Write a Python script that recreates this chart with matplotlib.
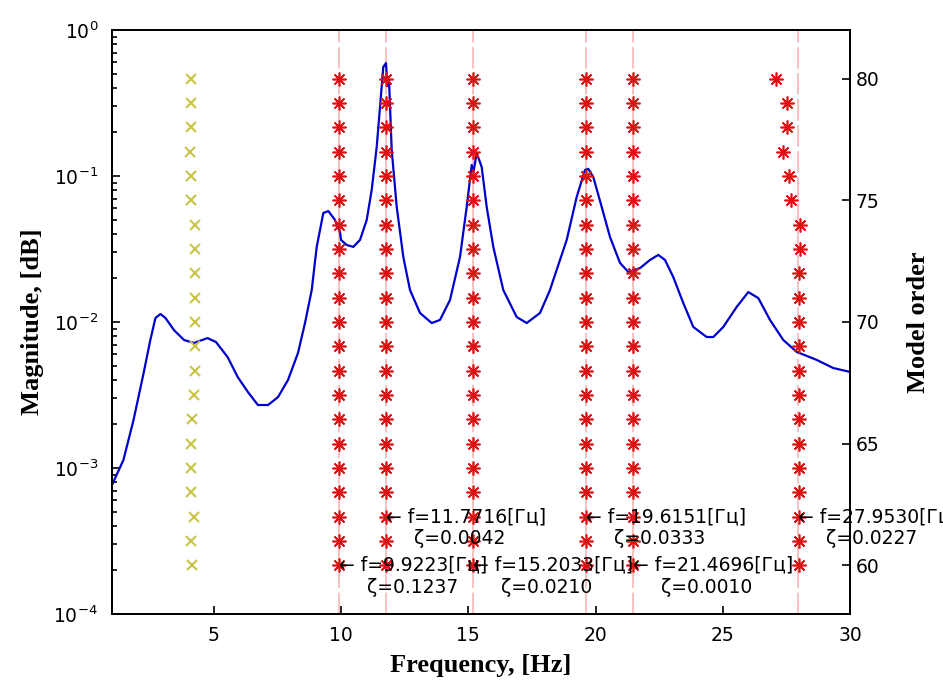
import numpy as np
import matplotlib
matplotlib.use('Agg')
import matplotlib.pyplot as plt

# --- FRF magnitude curve ---
freq = [1.00, 1.448, 1.845, 2.242, 2.505, 2.705, 2.902, 3.102, 3.432, 3.829,
        4.222, 4.752, 5.086, 5.542, 5.939, 6.336, 6.733, 7.130, 7.523, 7.916,
        8.308, 8.583, 8.847, 9.043, 9.303, 9.499, 9.762, 9.959, 9.998, 10.222,
        10.481, 10.745, 11.008, 11.204, 11.401, 11.530, 11.660, 11.766, 11.817, 11.884,
        11.990, 12.187, 12.446, 12.709, 13.102, 13.562, 13.888, 14.281, 14.674, 14.937,
        15.134, 15.204, 15.330, 15.527, 15.723, 15.982, 16.375, 16.902, 17.295, 17.817,
        18.210, 18.340, 18.867, 19.259, 19.585, 19.715, 19.912, 20.242, 20.568, 20.961,
        21.287, 21.747, 22.139, 22.466, 22.729, 23.055, 23.448, 23.841, 24.367, 24.627,
        25.020, 25.546, 26.002, 26.395, 26.855, 27.377, 27.904, 28.690, 29.341, 30.0]
mag = [7.66e-4, 1.135e-3, 2.133e-3, 4.477e-3, 7.53e-3, 1.064e-2, 1.135e-2, 1.064e-2, 8.81e-3, 7.53e-3,
       7.18e-3, 7.76e-3, 7.29e-3, 5.75e-3, 4.20e-3, 3.32e-3, 2.70e-3, 2.70e-3, 3.06e-3, 4.01e-3,
       6.14e-3, 9.84e-3, 1.656e-2, 3.27e-2, 5.58e-2, 5.75e-2, 5.00e-2, 4.13e-2, 3.65e-2, 3.37e-2,
       3.27e-2, 3.65e-2, 5.00e-2, 8.02e-2, 0.158, 0.297, 0.558, 0.594, 0.413, 0.455,
       0.151, 6.14e-2, 2.79e-2, 1.656e-2, 1.153e-2, 9.84e-3, 1.033e-2, 1.416e-2, 2.79e-2, 6.14e-2,
       0.119, 0.106, 0.144, 0.115, 6.14e-2, 3.27e-2, 1.656e-2, 1.081e-2, 9.84e-3, 1.153e-2,
       1.656e-2, 1.941e-2, 3.65e-2, 7.18e-2, 0.110, 0.112, 9.84e-2, 6.14e-2, 3.82e-2, 2.54e-2,
       2.20e-2, 2.34e-2, 2.66e-2, 2.88e-2, 2.66e-2, 2.03e-2, 1.349e-2, 9.25e-3, 7.89e-3, 7.89e-3,
       9.25e-3, 1.268e-2, 1.603e-2, 1.459e-2, 1.033e-2, 7.53e-3, 6.24e-3, 5.50e-3, 4.84e-3, 4.55e-3]

# --- stabilization diagram, model orders 60..80 ---
orders = list(range(60, 81))
unstable_f = [4.16, 4.12, 4.23, 4.12, 4.12, 4.10, 4.16, 4.23, 4.25, 4.25, 4.25,
              4.25, 4.25, 4.25, 4.25, 4.10, 4.10, 4.07, 4.10, 4.10, 4.10]
stable_cols = [
    [9.92] * 21,
    [11.77] * 21,
    [15.20] * 21,
    [19.62] * 21,
    [21.47] * 21,
    [27.98, 27.98, 27.98, 27.98, 27.98, 27.98, 27.98, 27.98, 27.98, 27.98, 27.98,
     27.98, 27.98, 28.05, 28.05, 27.70, 27.61, 27.37, 27.52, 27.54, 27.11],
]

# --- identified modes ---
mode_f = [9.9223, 11.7716, 15.2033, 19.6151, 21.4696, 27.9530]
mode_zeta = ['0.1237', '0.0042', '0.0210', '0.0333', '0.0010', '0.0227']
mode_order = [60, 62, 60, 62, 60, 62]

fig = plt.figure(figsize=(9.43, 6.87), dpi=100)
ax = fig.add_axes([0.1188, 0.1063, 0.7826, 0.8500])
ax2 = ax.twinx()

for f in mode_f:
    ax.axvline(f, color='#f5b0b0', lw=1.1, dashes=(14, 3), zorder=1)

ax.semilogy(freq, mag, color='#0000cc', lw=1.6, zorder=3)
ax.set_xlim(1, 30)
ax.set_ylim(1e-4, 1e0)
ax.set_xticks([5, 10, 15, 20, 25, 30])

ax2.plot(unstable_f, orders, 'x', color='#c8c44a', ms=7, mew=1.5, ls='none')
for col in stable_cols:
    ax2.plot(col, orders, marker=(8, 2, 0), color='#dd1111', ms=10, mew=1.2, ls='none')
ax2.set_ylim(58.0, 82.0)
ax2.set_yticks([60, 65, 70, 75, 80])

txt_font = ['DejaVu Sans']
for f, z, o in zip(mode_f, mode_zeta, mode_order):
    ax2.text(f, o, '\u2190 f=%.4f[\u0413\u0446]' % f, ha='left', va='center',
             fontsize=13.5, family=txt_font, clip_on=False, zorder=5)
    ax2.annotate('\u03b6=' + z, (f, o), xytext=(28, -22), textcoords='offset pixels',
                 ha='left', va='center', fontsize=13.5, family=txt_font,
                 annotation_clip=False, zorder=5)

for a in (ax, ax2):
    a.tick_params(which='both', direction='in', labelsize=13.5, width=1.2)
    a.tick_params(which='major', length=6)
    a.tick_params(which='minor', length=3.5)
    for s in a.spines.values():
        s.set_linewidth(1.3)
ax.tick_params(axis='y', pad=10)
ax.tick_params(axis='x', pad=9)
ax2.tick_params(axis='y', pad=4)

lab = dict(family='Liberation Serif', fontweight='bold', fontsize=19)
ax.set_xlabel('Frequency, [Hz]', labelpad=6, **lab)
ax.set_ylabel('Magnitude, [dB]', labelpad=7, **lab)
ax2.set_ylabel('Model order', labelpad=20, **lab)

fig.savefig('out.png', dpi=100)
